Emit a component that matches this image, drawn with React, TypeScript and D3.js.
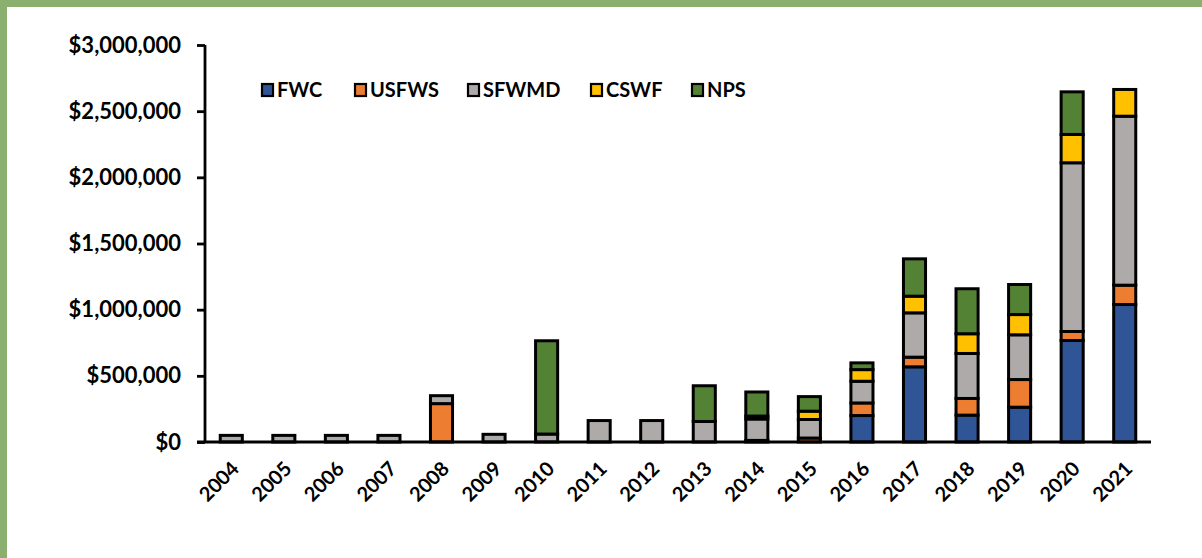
import React, { useEffect, useRef } from 'react';
import * as d3 from 'd3';

const years = ['2004', '2005', '2006', '2007', '2008', '2009', '2010', '2011', '2012',
  '2013', '2014', '2015', '2016', '2017', '2018', '2019', '2020', '2021'];

const agencies = ['FWC', 'USFWS', 'SFWMD', 'CSWF', 'NPS'];
const agencyColors = ['#2F5597', '#ED7D31', '#AEAAAA', '#FFC000', '#548235'];

const fwc = [0, 0, 0, 0, 0, 0, 0, 0, 0, 0, 12000, 0, 200000, 568000, 203000, 263000, 767000, 1039000];
const usfws = [0, 0, 0, 0, 290000, 0, 0, 0, 0, 0, 0, 30000, 95000, 73000, 126000, 209000, 68000, 146000];
const sfwmd = [50000, 50000, 50000, 50000, 60000, 58000, 60000, 162000, 162000, 155000, 162000, 140000, 164000, 335000, 340000, 338000, 1275000, 1277000];
const cswf = [0, 0, 0, 0, 0, 0, 0, 0, 0, 0, 22000, 63000, 88000, 126000, 149000, 153000, 214000, 202000];
const nps = [0, 0, 0, 0, 0, 0, 705000, 0, 0, 270000, 182000, 110000, 51000, 282000, 340000, 227000, 322000, 0];

const yTicks = [0, 500000, 1000000, 1500000, 2000000, 2500000, 3000000];

export default function App() {
  const svgRef = useRef<SVGSVGElement>(null);

  useEffect(() => {
    if (!svgRef.current) return;
    const svg = d3.select(svgRef.current);
    svg.selectAll('*').remove();

    const W = 1202, H = 558;
    const font = 'Lato, "Open Sans", sans-serif';

    svg.append('rect').attr('width', W).attr('height', H).attr('fill', '#fff');
    // green frame (top and left strips)
    svg.append('rect').attr('x', 0).attr('y', 0).attr('width', W).attr('height', 7).attr('fill', '#8BAF6E');
    svg.append('rect').attr('x', 0).attr('y', 0).attr('width', 7).attr('height', H).attr('fill', '#8BAF6E');

    const plot = { left: 205, right: 1151, top: 45, bottom: 442 };

    const x = d3.scaleBand<string>()
      .domain(years)
      .range([plot.left, plot.right])
      .paddingInner(0.58)
      .paddingOuter(0.29);

    const y = d3.scaleLinear()
      .domain([0, 3000000])
      .range([plot.bottom, plot.top]);

    const table = years.map((yr, i) => ({
      year: yr,
      FWC: fwc[i], USFWS: usfws[i], SFWMD: sfwmd[i], CSWF: cswf[i], NPS: nps[i],
    }));

    const stacked = d3.stack<any>().keys(agencies)(table);
    const color = d3.scaleOrdinal<string, string>().domain(agencies).range(agencyColors);

    // bars
    svg.append('g')
      .selectAll('g')
      .data(stacked)
      .join('g')
      .attr('fill', d => color(d.key))
      .selectAll('rect')
      .data(d => d.filter(s => s[1] - s[0] > 0))
      .join('rect')
      .attr('x', d => x(d.data.year) || 0)
      .attr('y', d => y(d[1]))
      .attr('width', x.bandwidth())
      .attr('height', d => y(d[0]) - y(d[1]))
      .attr('stroke', '#000')
      .attr('stroke-width', 3);

    // y axis
    const yAxis = svg.append('g')
      .attr('transform', `translate(${plot.left},0)`)
      .call(d3.axisLeft(y).tickValues(yTicks).tickSize(8).tickPadding(16)
        .tickFormat(d => '$' + d3.format(',')(d as number)));
    yAxis.select('.domain').attr('stroke', '#000').attr('stroke-width', 2.8)
      .attr('d', `M0,${plot.top}V${plot.bottom}`);
    yAxis.selectAll('.tick line').attr('stroke', '#000').attr('stroke-width', 2.8);
    yAxis.selectAll('.tick text')
      .attr('fill', '#000')
      .style('font-family', font)
      .style('font-weight', 'bold')
      .style('font-size', '22px');

    // x axis
    const xAxis = svg.append('g')
      .attr('transform', `translate(0,${plot.bottom})`)
      .call(d3.axisBottom(x).tickSize(0).tickPadding(0));
    xAxis.select('.domain').attr('stroke', '#000').attr('stroke-width', 2.8)
      .attr('d', `M${plot.left - 8},0H${plot.right}`);
    xAxis.selectAll('.tick text')
      .attr('fill', '#000')
      .attr('text-anchor', 'end')
      .attr('dy', 0)
      .attr('y', 0)
      .attr('transform', 'translate(9,28) rotate(-45)')
      .style('font-family', font)
      .style('font-weight', 'bold')
      .style('font-size', '20px');

    // legend
    const legendX = [262, 355, 468, 591, 692];
    const legend = svg.append('g').attr('transform', 'translate(0,90)');
    agencies.forEach((a, i) => {
      const g = legend.append('g').attr('transform', `translate(${legendX[i]},0)`);
      g.append('rect')
        .attr('x', 0).attr('y', -6)
        .attr('width', 11).attr('height', 12)
        .attr('fill', agencyColors[i])
        .attr('stroke', '#000')
        .attr('stroke-width', 2.2);
      g.append('text')
        .attr('x', 15).attr('y', 0)
        .attr('dy', '0.36em')
        .style('font-family', font)
        .style('font-weight', 'bold')
        .style('font-size', '20px')
        .attr('fill', '#000')
        .text(a);
    });
  }, []);

  return (
    <div style={{ position: 'fixed', left: 0, top: 0, width: 1202, height: 558 }}>
      <svg ref={svgRef} width={1202} height={558} style={{ display: 'block' }}></svg>
    </div>
  );
}
